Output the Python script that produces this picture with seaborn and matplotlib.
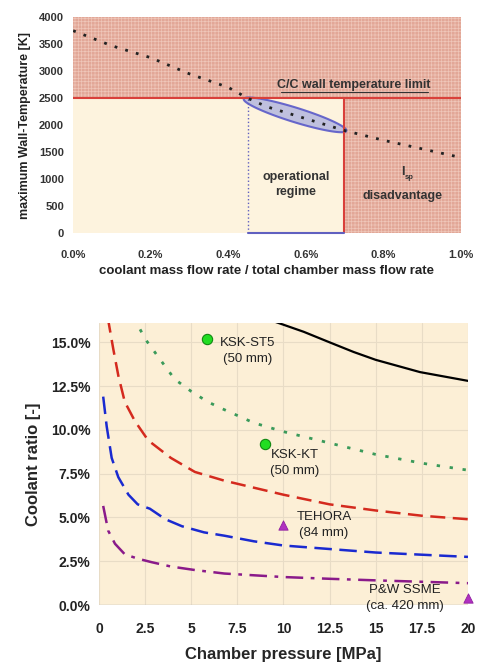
import numpy as np
import pandas as pd
import matplotlib
matplotlib.use("Agg")
import matplotlib.pyplot as plt
from matplotlib.ticker import FuncFormatter, MultipleLocator
import seaborn as sns

sns.set_style("white")
plt.rcParams['font.family'] = ['Liberation Sans', 'DejaVu Sans']
plt.rcParams['hatch.linewidth'] = 0.5

# top chart: wall temperature vs coolant fraction (in %)
cool_frac = [0.0, 0.1, 0.2, 0.3, 0.4, 0.45, 0.5, 0.6, 0.7, 0.8, 0.9, 1.0]
wall_temp = [3750, 3470, 3250, 2950, 2700, 2500, 2340, 2120, 1900, 1720, 1560, 1400]
t_limit = 2500
op_lo, op_hi = 0.45, 0.70

# bottom chart: coolant ratio (%) vs chamber pressure (MPa)
p_black = [9.2, 11.1, 12.5, 13.8, 15, 17.4, 20]
c_black = [16.3, 15.6, 15.0, 14.45, 14.0, 13.3, 12.8]
p_green = [1.9, 2.5, 3.4, 4.1, 5.0, 5.9, 6.7, 8.4, 10, 12.5, 15, 17.5, 20]
c_green = [16.4, 15.2, 13.9, 12.9, 12.2, 11.6, 11.2, 10.4, 9.9, 9.25, 8.6, 8.1, 7.7]
p_red = [0.48, 0.78, 1.05, 1.4, 1.95, 2.67, 3.9, 5.2, 6.8, 8.4, 10, 12.5, 15, 17.5, 20]
c_red = [16.4, 14.6, 13.1, 11.6, 10.5, 9.4, 8.4, 7.6, 7.1, 6.7, 6.3, 5.75, 5.4, 5.1, 4.9]
p_blue = [0.23, 0.42, 0.69, 1.05, 1.6, 2.1, 2.76, 3.6, 4.5, 5.7, 6.8, 8.4, 10, 12.5, 15, 20]
c_blue = [11.9, 10.2, 8.4, 7.3, 6.3, 5.75, 5.5, 4.9, 4.5, 4.15, 3.96, 3.64, 3.4, 3.2, 3.0, 2.75]
p_purple = [0.23, 0.5, 0.87, 1.4, 2.1, 2.85, 3.9, 5.2, 6.8, 10, 12.5, 15, 20]
c_purple = [5.66, 4.25, 3.5, 2.9, 2.65, 2.45, 2.2, 2.0, 1.8, 1.6, 1.5, 1.41, 1.25]

engines = ["KSK-ST5\n(50 mm)", "KSK-KT\n(50 mm)", "TEHORA\n(84 mm)", "P&W SSME\n(ca. 420 mm)"]
eng_p = [5.83, 9.0, 9.95, 20.0]
eng_c = [15.2, 9.19, 4.55, 0.4]
eng_kind = ["circle", "circle", "tri", "tri"]
label_p = [8.05, 10.6, 12.2, 16.6]
label_c = [14.5, 8.13, 4.58, 0.4]

fig = plt.figure(figsize=(4.78, 6.62), dpi=100)
ax1 = fig.add_axes([0.153, 0.648, 0.811, 0.326])
ax2 = fig.add_axes([0.207, 0.086, 0.772, 0.426])

# ---- top chart ----
hot = '#e2a797'
hatch_col = '#efc6b9'
beige = '#fdf3de'
ax1.set_xlim(0, 1.0)
ax1.set_ylim(0, 4000)
ax1.fill_between([0, 1.0], t_limit, 4000, facecolor=hot, edgecolor=hatch_col, hatch='+++++', lw=0)
ax1.fill_between([op_hi, 1.0], 0, t_limit, facecolor=hot, edgecolor=hatch_col, hatch='+++++', lw=0)
ax1.fill_between([0, op_hi], 0, t_limit, facecolor=beige, lw=0)

t = np.linspace(0, 2 * np.pi, 200)
slope = (1900 - 2480) / (0.705 - 0.44)
ex = 0.5725 + 0.1325 * np.cos(t)
ey = 2190 + slope * 0.1325 * np.cos(t) + 140 * np.sin(t)
ax1.fill(ex, ey, facecolor='#b9bbdf', edgecolor='#5a5ac8', lw=1.5, alpha=0.9, zorder=3)

ax1.axhline(t_limit, color='#d9403a', lw=1.5, zorder=4)
ax1.plot([op_hi, op_hi], [0, t_limit], color='#d9403a', lw=1.5, zorder=4)
ax1.plot([op_lo, op_lo], [0, t_limit], color='#6060c0', lw=1, ls=':', zorder=4)
ax1.plot([op_lo, op_hi], [0, 0], color='#6060c0', lw=1.5, zorder=4, clip_on=False)

sns.lineplot(x=cool_frac, y=wall_temp, ax=ax1, color='#222222', lw=2, ls=(0, (1, 3)), zorder=5)

ax1.text(0.725, 2690, "C/C wall temperature limit", ha='center', va='baseline',
         fontsize=9, fontweight='bold', color='#333333')
ax1.plot([0.535, 0.915], [2620, 2620], color='#333333', lw=0.8)
ax1.text(0.575, 900, "operational\nregime", ha='center', va='center',
         fontsize=9, fontweight='bold', color='#333333', linespacing=1.3)
ax1.text(0.85, 680, "disadvantage", ha='center', va='center',
         fontsize=9, fontweight='bold', color='#333333')
ax1.text(0.85, 1130, "I", ha='center', va='center',
         fontsize=9, fontweight='bold', color='#333333')
ax1.text(0.855, 1020, "sp", ha='left', va='center',
         fontsize=5.5, fontweight='bold', color='#333333')

ax1.xaxis.set_major_locator(MultipleLocator(0.2))
ax1.xaxis.set_major_formatter(FuncFormatter(lambda v, p: f"{v:.1f}%"))
ax1.yaxis.set_major_locator(MultipleLocator(500))
ax1.tick_params(labelsize=8, length=3, color='#aaaaaa', width=0.8)
ax1.tick_params(axis='x', pad=9)
for lab in ax1.get_xticklabels() + ax1.get_yticklabels():
    lab.set_fontweight('bold')
    lab.set_color('#333333')
ax1.set_xlabel("coolant mass flow rate / total chamber mass flow rate",
               fontsize=9.5, fontweight='bold', labelpad=4, color='#222222')
ax1.set_ylabel("maximum Wall-Temperature [K]", fontsize=9, fontweight='bold',
               labelpad=6, color='#222222')
for s in ax1.spines.values():
    s.set_visible(False)

# ---- bottom chart ----
ax2.set_facecolor('#fcefd6')
ax2.set_xlim(0, 20)
ax2.set_ylim(0, 16.1)
ax2.grid(True, color='#e8dcc6', lw=0.8)
ax2.set_axisbelow(True)

sns.lineplot(x=p_black, y=c_black, ax=ax2, color='black', lw=1.6)
sns.lineplot(x=p_green, y=c_green, ax=ax2, color='#3a9a5a', lw=2, ls=(0, (1.2, 3.5)))
sns.lineplot(x=p_red, y=c_red, ax=ax2, color='#d42a1e', lw=1.8, ls=(0, (6, 3)))
sns.lineplot(x=p_blue, y=c_blue, ax=ax2, color='#1a2ad0', lw=1.8, ls=(0, (7, 3)))
sns.lineplot(x=p_purple, y=c_purple, ax=ax2, color='#8a1a8a', lw=1.8, ls=(0, (7, 3, 1.5, 3)))

pts = pd.DataFrame({"p": eng_p, "c": eng_c, "kind": eng_kind})
sns.scatterplot(data=pts[pts.kind == "circle"], x="p", y="c", marker="o",
                color="#22dd22", edgecolor='#118811', linewidth=0.8, s=55,
                ax=ax2, zorder=5, clip_on=False)
sns.scatterplot(data=pts[pts.kind == "tri"], x="p", y="c", marker="^",
                color="#b030c0", edgecolor='#9020a0', linewidth=0.6, s=45,
                ax=ax2, zorder=5, clip_on=False)

for name, lp, lc in zip(engines, label_p, label_c):
    ax2.text(lp, lc, name, ha='center', va='center', fontsize=9.5,
             linespacing=1.45, color='#222222', zorder=6)

ax2.xaxis.set_major_locator(MultipleLocator(2.5))
ax2.xaxis.set_major_formatter(FuncFormatter(lambda v, p: f"{v:g}"))
ax2.yaxis.set_major_locator(MultipleLocator(2.5))
ax2.yaxis.set_major_formatter(FuncFormatter(lambda v, p: f"{v:.1f}%"))
ax2.tick_params(labelsize=10, length=0, pad=6)
ax2.tick_params(axis='x', pad=12)
for lab in ax2.get_xticklabels() + ax2.get_yticklabels():
    lab.set_fontweight('bold')
    lab.set_color('#222222')
ax2.set_xlabel("Chamber pressure [MPa]", fontsize=12, fontweight='bold', labelpad=8)
ax2.set_ylabel("Coolant ratio [-]", fontsize=12, fontweight='bold', labelpad=7)
for s in ax2.spines.values():
    s.set_visible(False)
ax2.axhline(0, color='#bbbbbb', lw=1)

fig.savefig("out.png", dpi=100)
